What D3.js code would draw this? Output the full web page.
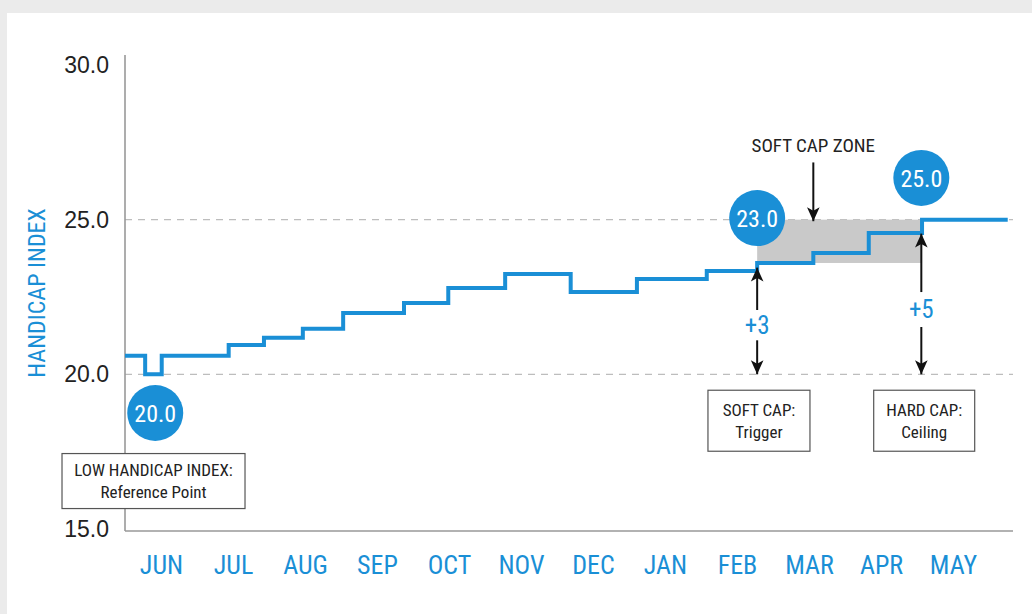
<!DOCTYPE html>
<html>
<head>
<meta charset="utf-8">
<title>Handicap index</title>
<script src="https://d3js.org/d3.v7.min.js"></script>
<style>
  body { margin: 0; background: #ebebeb; }
  svg { display: block; }
  .narrow { font-family: "Liberation Sans Narrow", "Roboto Condensed", "DejaVu Sans Condensed", sans-serif; }
</style>
</head>
<body>
<svg width="1032" height="614"></svg>
<script>
// month labels along the bottom
var months = ["JUN", "JUL", "AUG", "SEP", "OCT", "NOV", "DEC", "JAN", "FEB", "MAR", "APR", "MAY"];
// step line: start of each step (in months from start of JUN) and its index value
var stepStarts = [0, 0.28, 0.51, 1.44, 1.93, 2.47, 3.03, 3.875, 4.49, 5.28, 6.19, 7.11, 8.08, 8.78, 9.56, 10.33, 11.07];
var stepValues = [20.6, 20.0, 20.6, 20.95, 21.18, 21.47, 21.98, 22.31, 22.79, 23.24, 22.66, 23.08, 23.34, 23.6, 23.92, 24.57, 25.0];
var stepEnd = 12.26;
var yTicks = [15, 20, 25, 30];
var refLines = [20, 25];
// soft cap zone
var zoneFrom = 8.78, zoneTo = 11.07, zoneLow = 23.6, zoneHigh = 25.0;
// value bubbles
var bubbleLabels = ["20.0", "23.0", "25.0"];
var bubbleMonth = [0.42, 8.78, 11.06];
var bubbleValue = [18.75, 25.05, 26.35];

var blue = "#1a8fd6";
var svg = d3.select("svg");

svg.append("rect").attr("x", 7).attr("y", 13).attr("width", 1025).attr("height", 601).attr("fill", "#fff");

var x = d3.scaleLinear().domain([0, 12]).range([125, 989]);
var y = d3.scaleLinear().domain([15, 30]).range([529, 65]);

// arrow heads
var defs = svg.append("defs");
defs.append("marker").attr("id", "head")
  .attr("viewBox", "0 0 10 10").attr("refX", 10).attr("refY", 5)
  .attr("markerWidth", 14).attr("markerHeight", 14).attr("markerUnits", "userSpaceOnUse")
  .attr("orient", "auto")
  .append("path").attr("d", "M0,0.5 L10,5 L0,9.5 L2.5,5 Z").attr("fill", "#111");

// reference lines
svg.selectAll(".ref").data(refLines).enter().append("line")
  .attr("x1", x(0)).attr("x2", 1013)
  .attr("y1", function(d) { return y(d); }).attr("y2", function(d) { return y(d); })
  .attr("stroke", "#bdbdbd").attr("stroke-width", 1.3).attr("stroke-dasharray", "7,6");

// soft cap zone
svg.append("rect")
  .attr("x", x(zoneFrom)).attr("y", y(zoneHigh))
  .attr("width", x(zoneTo) - x(zoneFrom)).attr("height", y(zoneLow) - y(zoneHigh))
  .attr("fill", "#c9c9c9");

// axes
svg.append("line").attr("x1", x(0)).attr("x2", x(0)).attr("y1", 55).attr("y2", y(15) + 2)
  .attr("stroke", "#999").attr("stroke-width", 1.6);
svg.append("line").attr("x1", x(0)).attr("x2", 1013).attr("y1", y(15) + 2).attr("y2", y(15) + 2)
  .attr("stroke", "#999").attr("stroke-width", 1.6);

var yAxis = svg.append("g").attr("transform", "translate(" + x(0) + ",0)")
  .call(d3.axisLeft(y).tickValues(yTicks).tickSize(0).tickPadding(16).tickFormat(d3.format(".1f")));
yAxis.select(".domain").remove();
yAxis.selectAll("text").attr("font-family", "Liberation Sans, Arial, sans-serif")
  .attr("font-size", 23).attr("fill", "#222");

var xAxis = svg.append("g").attr("transform", "translate(0," + (y(15) + 2) + ")")
  .call(d3.axisBottom(x).tickValues(d3.range(months.length).map(function(i) { return i + 0.5; }))
    .tickSize(0).tickPadding(25).tickFormat(function(d, i) { return months[i]; }));
xAxis.select(".domain").remove();
xAxis.selectAll("text").attr("class", "narrow").attr("font-size", 26).attr("fill", blue);

svg.append("text").attr("class", "narrow")
  .attr("transform", "translate(45,293) rotate(-90)")
  .attr("text-anchor", "middle").attr("font-size", 24).attr("fill", blue)
  .text("HANDICAP INDEX");

// step line
var pts = stepStarts.map(function(s, i) { return [s, stepValues[i]]; });
pts.push([stepEnd, stepValues[stepValues.length - 1]]);
var line = d3.line().x(function(d) { return x(d[0]); }).y(function(d) { return y(d[1]); }).curve(d3.curveStepAfter);
svg.append("path").datum(pts)
  .attr("fill", "none").attr("stroke", blue).attr("stroke-width", 4)
  .attr("d", line);

// arrows
function arrow(m, v1, v2) {
  svg.append("line")
    .attr("x1", x(m)).attr("x2", x(m)).attr("y1", y(v1)).attr("y2", y(v2))
    .attr("stroke", "#111").attr("stroke-width", 2).attr("marker-end", "url(#head)");
}
arrow(8.78, 22.08, 23.45);  // up to soft cap
arrow(8.78, 21.1, 20.0);    // down to low index
arrow(11.06, 22.66, 24.55); // up to hard cap
arrow(11.06, 21.53, 20.0);
arrow(9.56, 26.85, 24.95);  // soft cap zone pointer

svg.append("text").attr("class", "narrow").attr("x", x(8.78)).attr("y", y(21.6)).attr("dy", "0.35em")
  .attr("text-anchor", "middle").attr("font-size", 25).attr("fill", blue).text("+3");
svg.append("text").attr("class", "narrow").attr("x", x(11.06)).attr("y", y(22.1)).attr("dy", "0.35em")
  .attr("text-anchor", "middle").attr("font-size", 25).attr("fill", blue).text("+5");
svg.append("text").attr("class", "narrow").attr("x", x(9.56)).attr("y", y(27.4)).attr("dy", "0.35em")
  .attr("text-anchor", "middle").attr("font-size", 19).attr("fill", "#222").text("SOFT CAP ZONE");

// bubbles
var bub = svg.selectAll(".bubble").data(bubbleLabels).enter().append("g")
  .attr("transform", function(d, i) { return "translate(" + x(bubbleMonth[i]) + "," + y(bubbleValue[i]) + ")"; });
bub.append("circle").attr("r", 28).attr("fill", blue);
bub.append("text").attr("class", "narrow").attr("text-anchor", "middle").attr("dy", "0.36em")
  .attr("font-size", 24).attr("fill", "#fff").text(function(d) { return d; });

// note boxes
function note(m, v, w, h, lines) {
  var g = svg.append("g").attr("transform", "translate(" + x(m) + "," + y(v) + ")");
  g.append("rect").attr("x", -w / 2).attr("y", -h / 2).attr("width", w).attr("height", h)
    .attr("fill", "#fff").attr("stroke", "#555").attr("stroke-width", 1.2);
  g.selectAll("text").data(lines).enter().append("text").attr("class", "narrow")
    .attr("text-anchor", "middle").attr("font-size", 17).attr("fill", "#222")
    .attr("y", function(d, i) { return (i - 0.5) * 22; }).attr("dy", "0.36em")
    .text(function(d) { return d; });
}
note(0.396, 16.55, 183, 55, ["LOW HANDICAP INDEX:", "Reference Point"]);
note(8.805, 18.5, 102, 61, ["SOFT CAP:", "Trigger"]);
note(11.10, 18.5, 101, 61, ["HARD CAP:", "Ceiling"]);
</script>
</body>
</html>
